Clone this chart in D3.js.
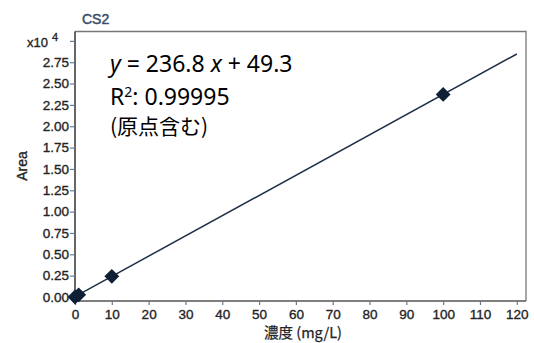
<!DOCTYPE html>
<html><head><meta charset="utf-8">
<script src="https://cdn.jsdelivr.net/npm/d3@7"></script>
<style>body{margin:0;background:#fff}svg{display:block}</style>
</head><body><svg id="c" width="534" height="343"></svg>
<script>
const concentrations = [0, 1, 10, 100];
const areas = [0, 250, 2420, 23730];
const slope = 236.8, intercept = 49.3;
const xTicks = [0,10,20,30,40,50,60,70,80,90,100,110,120];
const yTicks = [0,0.25,0.5,0.75,1.0,1.25,1.5,1.75,2.0,2.25,2.5,2.75];
const title = "CS2";
const xTitle = "濃度 (mg/L)";
const yTitle = "Area";
const eqLines = ["y = 236.8 x + 49.3", "R2: 0.99995", "(原点含む)"];

const svg = d3.select("#c");
const L = 75, R = 526, T = 31.5, B = 301;
const x = d3.scaleLinear().domain([0, 122.5]).range([L, R]);
const y = d3.scaleLinear().domain([-0.047, 3.11]).range([B, T]);
const font = "'Liberation Sans', Arial, sans-serif";
const txt = "#242424";
const sw = 0.35;

// frame top/right
svg.append("path").attr("d", `M${L},${T}H${R}V${B}`).attr("fill","none").attr("stroke","#777").attr("stroke-width",1.3);

// axes
const ya = svg.append("g").attr("transform",`translate(${L},0)`)
  .call(d3.axisLeft(y).tickValues(yTicks.concat([3.0])).tickSize(5).tickPadding(1)
    .tickFormat(d => d === 3.0 ? "" : d3.format(".2f")(d)));
ya.select(".domain").attr("stroke","#333").attr("stroke-width",1.5).attr("d",`M0,${T}V${B}`);
ya.selectAll(".tick line").attr("stroke","#6b7b8c").attr("stroke-width",1.2);
ya.selectAll(".tick text").attr("font-family",font).attr("font-size",13.5).attr("fill",txt).attr("stroke",txt).attr("stroke-width",sw);

const xa = svg.append("g").attr("transform",`translate(0,${B})`)
  .call(d3.axisBottom(x).tickValues(xTicks).tickSize(4).tickPadding(4).tickFormat(d3.format("d")));
xa.select(".domain").attr("stroke","#555").attr("stroke-width",1.5).attr("d",`M${L},0H${R}`);
xa.selectAll(".tick line").attr("stroke","#6b7b8c").attr("stroke-width",1.2);
xa.selectAll(".tick text").attr("font-family",font).attr("font-size",13.5).attr("fill",txt).attr("stroke",txt).attr("stroke-width",sw);

// x10^4 label
const ex = svg.append("text").attr("x", 27).attr("y", y(3.0)+6).attr("font-family",font).attr("font-size",13).attr("fill",txt).attr("stroke",txt).attr("stroke-width",sw);
ex.append("tspan").text("x10");
ex.append("tspan").attr("dx",4).attr("dy",-6).attr("font-size",11).text("4");

// title
svg.append("text").attr("x",82).attr("y",24).attr("font-family",font).attr("font-size",14).attr("fill","#3b4d6b").attr("stroke","#3b4d6b").attr("stroke-width",0.5).text(title);

// axis titles
svg.append("text").attr("transform",`translate(27,166) rotate(-90)`).attr("text-anchor","middle")
  .attr("font-family",font).attr("font-size",14).attr("fill",txt).attr("stroke",txt).attr("stroke-width",sw).text(yTitle);
svg.append("text").attr("x",303).attr("y",338).attr("text-anchor","middle")
  .attr("font-family","'Noto Sans CJK JP', "+font).attr("font-size",14.5).attr("fill",txt).attr("stroke",txt).attr("stroke-width",0.25).text(xTitle);

// regression line
const toY = v => y(v/10000);
svg.append("line").attr("x1",x(0)).attr("y1",toY(intercept)).attr("x2",x(120)).attr("y2",toY(slope*120+intercept))
  .attr("stroke","#1f2f45").attr("stroke-width",1.5);

// points
const sym = d3.symbol().type(d3.symbolSquare).size(110);
svg.selectAll(".pt").data(concentrations.map((c,i)=>[c,areas[i]])).join("path")
  .attr("d", sym).attr("transform", d=>`translate(${x(d[0])},${toY(d[1])}) rotate(45)`)
  .attr("fill","#0f2036");

// equation text
const ef = "'Noto Sans', sans-serif";
const t1 = svg.append("text").attr("x",110).attr("y",72).attr("font-family",ef).attr("font-size",23).attr("fill","#000");
t1.append("tspan").attr("font-style","italic").text("y");
t1.append("tspan").text(" = 236.8 ");
t1.append("tspan").attr("font-style","italic").text("x");
t1.append("tspan").text(" + 49.3");
const t2 = svg.append("text").attr("x",110).attr("y",105).attr("font-family",ef).attr("font-size",23).attr("fill","#000");
t2.append("tspan").text("R");
t2.append("tspan").attr("dy",-8).attr("font-size",14).text("2");
t2.append("tspan").attr("dy",8).text(": 0.99995");
svg.append("text").attr("x",110).attr("y",134).attr("font-family","'Noto Sans CJK JP', sans-serif").attr("font-size",21).attr("fill","#000").text(eqLines[2]);
</script></body></html>
